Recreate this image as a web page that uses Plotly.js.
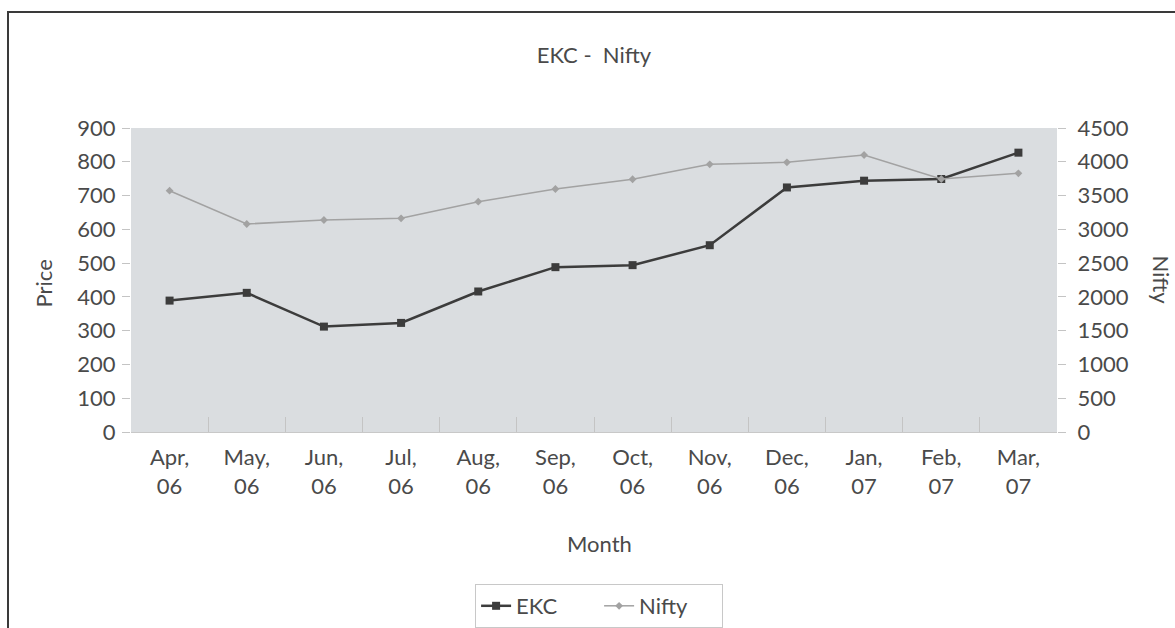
<!DOCTYPE html>
<html>
<head>
<meta charset="utf-8">
<script src="https://cdn.plot.ly/plotly-3.0.1.min.js"></script>
<style>
  html, body { margin: 0; padding: 0; background: #ffffff; overflow: hidden; }
  #wrap { position: relative; width: 1175px; height: 628px; }
  #chart { width: 1175px; height: 628px; }
  #frame { position: absolute; left: 7px; top: 11px; width: 1300px; height: 800px;
           border-top: 2px solid #3a3a3a; border-left: 2px solid #3a3a3a; pointer-events: none; }
</style>
</head>
<body>
<div id="wrap">
  <div id="chart"></div>
  <div id="frame"></div>
</div>
<script>
const months = ["Apr,<br>06", "May,<br>06", "Jun,<br>06", "Jul,<br>06", "Aug,<br>06", "Sep,<br>06",
                "Oct,<br>06", "Nov,<br>06", "Dec,<br>06", "Jan,<br>07", "Feb,<br>07", "Mar,<br>07"];
const ekc   = [389, 412, 312, 323, 416, 488, 494, 553, 724, 744, 749, 827];
const nifty = [3572, 3079, 3138, 3163, 3409, 3597, 3741, 3963, 3992, 4100, 3745, 3829];
const priceTicks = [0, 100, 200, 300, 400, 500, 600, 700, 800, 900];
const niftyTicks = [0, 500, 1000, 1500, 2000, 2500, 3000, 3500, 4000, 4500];

const FONT = "Lato, 'Open Sans', sans-serif";
const TXT = "#4a4a4a";
const FS = 22;

const traces = [
  {
    x: months, y: ekc, name: "EKC", type: "scatter", mode: "lines+markers",
    yaxis: "y",
    line: { color: "#3c3c3c", width: 2.5 },
    marker: { symbol: "square", size: 8, color: "#3c3c3c" }
  },
  {
    x: months, y: nifty, name: "Nifty", type: "scatter", mode: "lines+markers",
    yaxis: "y2",
    line: { color: "#a2a2a2", width: 1.5 },
    marker: { symbol: "diamond", size: 6, color: "#a2a2a2" }
  }
];

const layout = {
  width: 1175, height: 628,
  margin: { l: 131, r: 118, t: 128, b: 196, autoexpand: false },
  paper_bgcolor: "#ffffff",
  plot_bgcolor: "#dadde0",
  font: { family: FONT, size: FS, color: TXT },
  showlegend: true,
  title: { text: "EKC -  Nifty", x: 0.5055, xanchor: "center", y: 1 - 55/628, yanchor: "middle",
           font: { family: FONT, size: FS, color: TXT } },
  xaxis: {
    type: "category",
    range: [-0.5, 11.5],
    tickson: "boundaries",
    ticks: "inside", ticklen: 15, tickcolor: "#c4c4c4", tickwidth: 1,
    showgrid: false, zeroline: false,
    showline: true, linecolor: "#c8c8c8", linewidth: 1,
    tickfont: { family: FONT, size: FS, color: TXT },
    ticklabelstandoff: 6
  },
  yaxis: {
    range: [0, 900], tickvals: priceTicks, ticktext: priceTicks.map(String),
    ticks: "outside", ticklen: 8, tickcolor: "#c4c4c4",
    showgrid: false, zeroline: false, showline: false,
    tickfont: { family: FONT, size: FS, color: TXT },
    ticklabelstandoff: 2
  },
  yaxis2: {
    overlaying: "y", side: "right",
    range: [0, 4500], tickvals: niftyTicks, ticktext: niftyTicks.map(String),
    ticks: "outside", ticklen: 8, tickcolor: "#c4c4c4",
    showgrid: false, zeroline: false, showline: false,
    tickfont: { family: FONT, size: FS, color: TXT },
    ticklabelstandoff: 7
  },
  legend: {
    orientation: "h", x: 0.5055, xanchor: "center", y: (432 - 584) / 304, yanchor: "top",
    bordercolor: "#c8c8c8", borderwidth: 1, bgcolor: "#ffffff",
    font: { family: FONT, size: FS, color: TXT },
    entrywidth: 78, entrywidthmode: "pixels"
  },
  annotations: [
    { text: "Month", xref: "paper", yref: "paper", x: 0.5055, y: (432 - 543) / 304,
      xanchor: "center", yanchor: "middle", showarrow: false,
      font: { family: FONT, size: FS, color: TXT } },
    { text: "Price", xref: "paper", yref: "paper", x: (44 - 131.5) / 925, y: 0.49,
      xanchor: "center", yanchor: "middle", showarrow: false, textangle: -90,
      font: { family: FONT, size: FS, color: TXT } },
    { text: "Nifty", xref: "paper", yref: "paper", x: (1161 - 131.5) / 925, y: 0.5,
      xanchor: "center", yanchor: "middle", showarrow: false, textangle: 90,
      font: { family: FONT, size: FS, color: TXT } }
  ]
};

Plotly.newPlot("chart", traces, layout, { displayModeBar: false, staticPlot: true });
</script>
</body>
</html>
